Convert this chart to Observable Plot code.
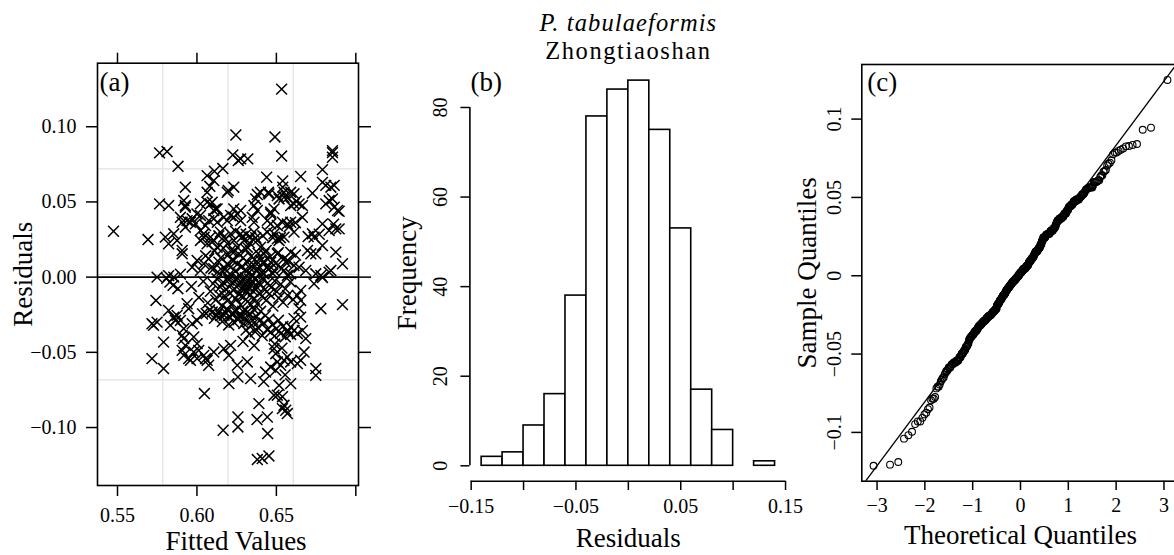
<!DOCTYPE html>
<html><head><meta charset="utf-8">
<script src="https://cdn.jsdelivr.net/npm/d3@7"></script>
<script src="https://cdn.jsdelivr.net/npm/@observablehq/plot@0.6"></script>
<style>
html,body{margin:0;padding:0;background:#fff;width:1174px;height:555px;overflow:hidden}
#wrap{position:relative;width:1174px;height:555px;overflow:hidden;background:#fff}
#wrap>svg{position:absolute;top:0}
</style></head>
<body><div id="wrap"></div>
<script>
const titleLine1 = "P. tabulaeformis";
const titleLine2 = "Zhongtiaoshan";
const panelLabels = ["(a)", "(b)", "(c)"];
const residualPoints = [
[0.5475,0.0305],[0.6533,0.1250],[0.6245,0.0945],[0.6491,0.0932],[0.5765,0.0826],[0.5812,0.0835],
[0.5881,0.0737],[0.6226,0.0813],[0.6260,0.0775],[0.6320,0.0786],[0.6275,0.0786],[0.6533,0.0805],
[0.6853,0.0841],[0.6853,0.0828],[0.6853,0.0797],[0.6110,0.0704],[0.6163,0.0722],[0.6790,0.0715],
[0.6064,0.0675],[0.6439,0.0664],[0.6653,0.0669],[0.6790,0.0630],[0.6811,0.0610],[0.6843,0.0598],
[0.6864,0.0610],[0.5927,0.0598],[0.6081,0.0604],[0.6106,0.0642],[0.6232,0.0598],[0.6197,0.0576],
[0.6540,0.0640],[0.6540,0.0598],[0.6611,0.0554],[0.6590,0.0564],[0.6727,0.0558],[0.6380,0.0549],
[0.6400,0.0564],[0.6450,0.0564],[0.6506,0.0542],[0.6548,0.0531],[0.6569,0.0527],[0.6611,0.0487],
[0.6643,0.0487],[0.6664,0.0476],[0.5917,0.0509],[0.5927,0.0476],[0.5765,0.0487],[0.5822,0.0476],
[0.6064,0.0498],[0.6085,0.0487],[0.6106,0.0443],[0.6117,0.0454],[0.6811,0.0487],[0.6832,0.0509],
[0.6864,0.0465],[0.6895,0.0438],[0.6359,0.0476],[0.6380,0.0443],[0.6464,0.0432],[0.6485,0.0454],
[0.6664,0.0398],[0.6000,0.0420],[0.6022,0.0410],[0.5970,0.0388],[0.5938,0.0376],[0.5907,0.0365],
[0.5927,0.0332],[0.5959,0.0365],[0.5990,0.0354],[0.5896,0.0398],[0.6212,0.0410],[0.6232,0.0398],
[0.6254,0.0420],[0.6275,0.0376],[0.6191,0.0376],[0.6169,0.0398],[0.6106,0.0388],[0.6128,0.0365],
[0.6074,0.0376],[0.6054,0.0343],[0.6348,0.0398],[0.6359,0.0365],[0.6443,0.0376],[0.6464,0.0354],
[0.6506,0.0343],[0.6538,0.0365],[0.6569,0.0354],[0.6590,0.0365],[0.6611,0.0299],[0.6548,0.0266],
[0.6727,0.0288],[0.6737,0.0266],[0.6790,0.0354],[0.6832,0.0310],[0.6874,0.0321],[0.6895,0.0321],
[0.5692,0.0250],[0.5801,0.0266],[0.5822,0.0222],[0.5854,0.0288],[0.5875,0.0244],[0.5907,0.0177],
[0.5907,0.0155],[0.6022,0.0310],[0.6043,0.0288],[0.6022,0.0244],[0.6064,0.0222],[0.6085,0.0266],
[0.6106,0.0244],[0.6148,0.0299],[0.6127,0.0199],[0.6169,0.0266],[0.6191,0.0222],[0.6212,0.0288],
[0.6232,0.0244],[0.6212,0.0177],[0.6254,0.0199],[0.6275,0.0288],[0.6296,0.0244],[0.6317,0.0199],
[0.6338,0.0266],[0.6359,0.0299],[0.6380,0.0244],[0.6401,0.0199],[0.6422,0.0155],[0.6443,0.0299],
[0.6485,0.0288],[0.6506,0.0255],[0.6517,0.0244],[0.6506,0.0155],[0.6548,0.0122],[0.6559,0.0100],
[0.6590,0.0166],[0.6696,0.0177],[0.6717,0.0155],[0.6748,0.0155],[0.6790,0.0210],[0.6874,0.0166],
[0.6916,0.0089],[0.6643,0.0066],[0.6685,0.0044],[0.6748,0.0022],[0.6780,0.0011],[0.6843,0.0044],
[0.5749,0.0000],[0.5822,0.0010],[0.5854,0.0000],[0.5896,0.0020],[0.5970,0.0066],[0.6001,0.0111],
[0.6022,0.0044],[0.6043,0.0089],[0.6074,0.0122],[0.6106,0.0056],[0.6138,0.0100],[0.6159,0.0044],
[0.6191,0.0089],[0.6212,0.0066],[0.6232,0.0111],[0.6401,0.0111],[0.6443,0.0066],[0.6464,0.0100],
[0.6485,0.0044],[0.6422,0.0022],[0.6380,0.0044],[0.6548,0.0044],[0.6590,0.0022],[0.6611,0.0077],
[0.6569,0.0011],
[0.6064,0.0564],[0.6096,0.0498],[0.6127,0.0454],[0.6191,0.0564],[0.6370,0.0520],[0.6453,0.0553],
[0.6517,0.0520],[0.6548,0.0564],[0.6590,0.0476],[0.6625,0.0505],[0.6853,0.0520],[0.6885,0.0443],
[0.6464,0.0420],[0.5927,0.0465],[0.6022,0.0487],[0.6232,0.0454],[0.6275,0.0443],
[0.6045,0.0265],[0.6095,0.0235],[0.6138,0.0275],[0.6180,0.0252],[0.6243,0.0305],[0.6285,0.0268],
[0.6310,0.0285],[0.6330,0.0228],[0.6370,0.0262],[0.6415,0.0275],[0.6478,0.0262],[0.6525,0.0262],
[0.6580,0.0335],[0.6620,0.0362],[0.6700,0.0270],[0.6770,0.0285],[0.6860,0.0352],
[0.6055,0.0142],[0.6088,0.0061],[0.6112,0.0175],[0.6131,0.0034],[0.6150,0.0128],[0.6167,0.0192],
[0.6178,0.0052],[0.6195,0.0146],[0.6208,0.0021],[0.6221,0.0113],[0.6234,0.0168],[0.6242,0.0039],
[0.6256,0.0087],[0.6263,0.0154],[0.6271,0.0012],[0.6284,0.0072],[0.6291,0.0129],[0.6302,0.0046],
[0.6310,0.0183],[0.6318,0.0098],[0.6325,0.0027],[0.6333,0.0061],[0.6341,0.0138],[0.6349,0.0015],
[0.6356,0.0082],[0.6364,0.0119],[0.6372,0.0043],[0.6385,0.0157],[0.6393,0.0069],[0.6408,0.0031],
[0.6421,0.0104],[0.6436,0.0178],[0.6449,0.0051],[0.6462,0.0136],[0.6478,0.0024],[0.6495,0.0091],
[0.6512,0.0163],[0.6534,0.0058],[0.6571,0.0112],[0.6620,0.0147],
[0.5965,-0.0062],[0.6012,-0.0135],[0.6040,-0.0028],[0.6068,-0.0171],[0.6085,-0.0094],[0.6102,-0.0043],
[0.6118,-0.0152],[0.6126,-0.0011],[0.6139,-0.0118],[0.6147,-0.0066],[0.6158,-0.0189],[0.6166,-0.0035],
[0.6174,-0.0124],[0.6183,-0.0081],[0.6191,-0.0158],[0.6199,-0.0019],[0.6207,-0.0107],[0.6214,-0.0054],
[0.6222,-0.0176],[0.6229,-0.0088],[0.6236,-0.0029],[0.6243,-0.0141],[0.6250,-0.0064],[0.6257,-0.0008],
[0.6263,-0.0113],[0.6269,-0.0042],[0.6275,-0.0185],[0.6281,-0.0076],[0.6287,-0.0021],[0.6293,-0.0132],
[0.6298,-0.0057],[0.6304,-0.0004],[0.6309,-0.0098],[0.6315,-0.0035],[0.6320,-0.0162],[0.6326,-0.0071],
[0.6331,-0.0014],[0.6337,-0.0119],[0.6342,-0.0048],[0.6348,-0.0026],[0.6354,-0.0093],[0.6360,-0.0145],
[0.6366,-0.0009],[0.6372,-0.0061],[0.6379,-0.0178],[0.6386,-0.0033],[0.6393,-0.0105],[0.6401,-0.0052],
[0.6409,-0.0127],[0.6418,-0.0017],[0.6427,-0.0084],[0.6436,-0.0154],[0.6446,-0.0039],[0.6456,-0.0112],
[0.6467,-0.0068],[0.6478,-0.0193],[0.6490,-0.0025],[0.6502,-0.0096],[0.6515,-0.0139],[0.6528,-0.0047],
[0.6542,-0.0167],[0.6556,-0.0078],[0.6571,-0.0121],[0.6588,-0.0031],[0.6605,-0.0149],[0.6195,-0.0003],
[0.6245,-0.0017],[0.6302,-0.0079],[0.6340,-0.0183],[0.6283,-0.0125],
[0.6035,-0.0245],[0.6058,-0.0242],[0.6079,-0.0218],[0.6096,-0.0232],[0.6110,-0.0274],[0.6124,-0.0251],
[0.6137,-0.0229],[0.6149,-0.0256],[0.6160,-0.0296],[0.6171,-0.0253],[0.6181,-0.0236],[0.6190,-0.0212],
[0.6200,-0.0318],[0.6209,-0.0267],[0.6218,-0.0246],[0.6226,-0.0238],[0.6234,-0.0301],[0.6242,-0.0228],
[0.6250,-0.0221],[0.6258,-0.0283],[0.6266,-0.0261],[0.6273,-0.0257],[0.6281,-0.0254],[0.6288,-0.0226],
[0.6295,-0.0309],[0.6302,-0.0271],[0.6309,-0.0352],[0.6316,-0.0234],[0.6323,-0.0297],[0.6330,-0.0378],
[0.6337,-0.0249],[0.6344,-0.0321],[0.6351,-0.0286],[0.6359,-0.0215],[0.6367,-0.0363],[0.6375,-0.0262],
[0.6383,-0.0334],[0.6392,-0.0291],[0.6401,-0.0227],[0.6411,-0.0389],[0.6421,-0.0305],[0.6431,-0.0256],
[0.6442,-0.0348],[0.6453,-0.0279],[0.6464,-0.0366],[0.6476,-0.0318],[0.6488,-0.0392],[0.6500,-0.0343],
[0.6513,-0.0287],[0.6527,-0.0375],[0.6541,-0.0328],[0.6556,-0.0396],[0.6572,-0.0354],[0.6590,-0.0381],
[0.6290,-0.0428],[0.6360,-0.0455],[0.6490,-0.0445],[0.6535,-0.0472],
[0.5742,-0.0155],[0.5717,-0.0310],[0.5727,-0.0320],[0.5749,-0.0299],[0.5717,-0.0542],[0.5790,-0.0432],
[0.5790,-0.0608],[0.5822,-0.0221],[0.5854,-0.0266],[0.5875,-0.0254],[0.5896,-0.0288],[0.5833,-0.0320],
[0.5865,-0.0288],[0.5810,-0.0008],[0.5830,-0.0033],[0.5850,-0.0055],[0.5880,-0.0077],[0.5938,-0.0177],
[0.5948,-0.0210],[0.5917,-0.0343],[0.5907,-0.0387],[0.5917,-0.0409],[0.5927,-0.0454],[0.5907,-0.0487],
[0.5917,-0.0520],[0.5948,-0.0542],[0.5980,-0.0498],[0.5959,-0.0553],[0.6001,-0.0542],[0.6011,-0.0487],
[0.5980,-0.0398],[0.5970,-0.0310],[0.6001,-0.0288],[0.6001,-0.0442],[0.6043,-0.0520],[0.6064,-0.0553],
[0.6074,-0.0586],[0.6054,-0.0542],[0.6047,-0.0774],[0.6106,-0.0498],[0.6169,-0.0476],[0.6201,-0.0520],
[0.6212,-0.0454],[0.6201,-0.0708],[0.6165,-0.1018],[0.6258,-0.0930],[0.6258,-0.0996],[0.6258,-0.0664],
[0.6338,-0.0675],[0.6317,-0.0564],[0.6254,-0.0586],[0.6390,-0.0841],[0.6378,-0.0947],[0.6380,-0.1213],
[0.6411,-0.1206],[0.6453,-0.1189],[0.6445,-0.1040],[0.6443,-0.0930],[0.6432,-0.0631],[0.6464,-0.0598],
[0.6496,-0.0620],[0.6485,-0.0476],[0.6496,-0.0509],[0.6506,-0.0564],[0.6527,-0.0586],[0.6517,-0.0719],
[0.6506,-0.0785],[0.6485,-0.0785],[0.6538,-0.0795],[0.6548,-0.0852],[0.6559,-0.0885],[0.6538,-0.0874],
[0.6569,-0.0907],[0.6590,-0.0708],[0.6548,-0.0553],[0.6569,-0.0531],[0.6590,-0.0564],[0.6632,-0.0575],
[0.6653,-0.0553],[0.6674,-0.0498],[0.6685,-0.0409],[0.6664,-0.0354],[0.6632,-0.0376],[0.6611,-0.0354],
[0.6590,-0.0332],[0.6569,-0.0365],[0.6748,-0.0608],[0.6748,-0.0653],[0.6780,-0.0210],[0.6916,-0.0183],
[0.6653,-0.0089],[0.6632,-0.0122],[0.6653,-0.0155],[0.6643,-0.0210],[0.6653,-0.0266],[0.6611,-0.0276],
[0.6737,-0.0044],[0.6790,-0.0002],[0.6832,0.0033],[0.6420,-0.0695],[0.6555,-0.0650]
];
const fittedTicks = [0.55, 0.60, 0.65, 0.70];
const fittedTickLabels = ["0.55", "0.60", "0.65", ""];
const residTicks = [-0.10, -0.05, 0, 0.05, 0.10];
const residTickLabels = ["\u22120.10", "\u22120.05", "0.00", "0.05", "0.10"];
const gridLinesPerAxis = 3;
const binEdges = [-0.14,-0.12,-0.10,-0.08,-0.06,-0.04,-0.02,0,0.02,0.04,0.06,0.08,0.10,0.12,0.14];
const binCounts = [2,3,9,16,38,78,84,86,75,53,17,8,0,1];
const histXTicks = [-0.15,-0.10,-0.05,0,0.05,0.10,0.15];
const histXTickLabels = ["\u22120.15","","\u22120.05","","0.05","","0.15"];
const freqTicks = [0,20,40,60,80];
const freqTickLabels = ["0","20","40","60","80"];
const qqXTicks = [-3,-2,-1,0,1,2,3];
const qqXTickLabels = ["\u22123","\u22122","\u22121","0","1","2","3"];
const qqYTicks = [-0.1,-0.05,0,0.05,0.1];
const qqYTickLabels = ["\u22120.1","\u22120.05","0","0.05","0.1"];

const FONT = "'Liberation Serif','Times New Roman',serif";
const TICK_FS = 20, LAB_FS = 27, TITLE_FS = 24.5;
const extend = (e, f) => { const r = e[1] - e[0]; return [e[0] - f * r, e[1] + f * r]; };
const lookup = (ticks, labels) => { const m = new Map(ticks.map((t, i) => [t, labels[i]])); return d => m.get(d) ?? ""; };
function qnorm(p) {
  const a=[-3.969683028665376e+01,2.209460984245205e+02,-2.759285104469687e+02,1.383577518672690e+02,-3.066479806614716e+01,2.506628277459239e+00];
  const b=[-5.447609879822406e+01,1.615858368580409e+02,-1.556989798598866e+02,6.680131188771972e+01,-1.328068155288572e+01];
  const c=[-7.784894002430293e-03,-3.223964580411365e-01,-2.400758277161838e+00,-2.549732539343734e+00,4.374664141464968e+00,2.938163982698783e+00];
  const d=[7.784695709041462e-03,3.224671290700398e-01,2.445134137142996e+00,3.754408661907416e+00];
  const pl = 0.02425;
  if (p < pl) { const q = Math.sqrt(-2*Math.log(p)); return (((((c[0]*q+c[1])*q+c[2])*q+c[3])*q+c[4])*q+c[5])/((((d[0]*q+d[1])*q+d[2])*q+d[3])*q+1); }
  if (p <= 1 - pl) { const q = p - 0.5, r = q*q; return (((((a[0]*r+a[1])*r+a[2])*r+a[3])*r+a[4])*r+a[5])*q/(((((b[0]*r+b[1])*r+b[2])*r+b[3])*r+b[4])*r+1); }
  const q = Math.sqrt(-2*Math.log(1-p)); return -(((((c[0]*q+c[1])*q+c[2])*q+c[3])*q+c[4])*q+c[5])/((((d[0]*q+d[1])*q+d[2])*q+d[3])*q+1);
}
const baseStyle = {fontFamily: FONT, fontSize: TICK_FS + "px", color: "#000", background: "transparent", overflow: "visible"};
const wrap = document.getElementById("wrap");
function place(svg, left) { svg.style.left = left + "px"; wrap.appendChild(svg); }
const yLabel = (txt, dx) => Plot.text([txt], {frameAnchor: "left", dx, rotate: -90, textAnchor: "middle", lineAnchor: "bottom", fontSize: LAB_FS});

// panel (a)
const domA_x = extend(d3.extent(residualPoints, d => d[0]), 0.07);
const domA_y = extend(d3.extent(residualPoints, d => d[1]), 0.07);
const gridA_x = d3.range(1, gridLinesPerAxis + 1).map(k => domA_x[0] + k * (domA_x[1] - domA_x[0]) / (gridLinesPerAxis + 1));
const gridA_y = d3.range(1, gridLinesPerAxis + 1).map(k => domA_y[0] + k * (domA_y[1] - domA_y[0]) / (gridLinesPerAxis + 1));
const panelA = Plot.plot({
  width: 380, height: 555,
  marginLeft: 97, marginRight: 22, marginTop: 62.7, marginBottom: 70,
  x: {domain: domA_x}, y: {domain: domA_y},
  style: baseStyle,
  marks: [
    Plot.ruleX(gridA_x, {stroke: "#e2e2e2", strokeWidth: 1.2}),
    Plot.ruleY(gridA_y, {stroke: "#e2e2e2", strokeWidth: 1.2}),
    Plot.ruleY([0], {stroke: "#000", strokeWidth: 1.6}),
    Plot.dot(residualPoints, {x: d => d[0], y: d => d[1], symbol: "times", r: 5, stroke: "#000", strokeWidth: 1.5}),
    Plot.frame({stroke: "#000", strokeWidth: 1.6}),
    Plot.axisX(fittedTicks, {anchor: "bottom", tickSize: 11, tickPadding: 11, strokeWidth: 1.5, tickFormat: lookup(fittedTicks, fittedTickLabels), label: null}),
    Plot.axisX(fittedTicks, {anchor: "top", tickSize: 11, strokeWidth: 1.5, tickFormat: () => "", label: null}),
    Plot.axisY(residTicks, {anchor: "left", tickSize: 11, tickPadding: 10, strokeWidth: 1.5, tickFormat: lookup(residTicks, residTickLabels), label: null}),
    Plot.axisY(residTicks, {anchor: "right", tickSize: 12, strokeWidth: 1.5, tickFormat: () => "", label: null}),
    Plot.text([panelLabels[0]], {frameAnchor: "top-left", dx: 2, dy: 27.3, textAnchor: "start", lineAnchor: "bottom", fontSize: LAB_FS}),
    Plot.text(["Fitted Values"], {frameAnchor: "bottom", dx: 8, dy: 64.3, lineAnchor: "bottom", fontSize: LAB_FS}),
    yLabel("Residuals", -65.5)
  ]
});
place(panelA, 0);

// panel (b)
const histData = binCounts.map((c, i) => ({x1: binEdges[i], x2: binEdges[i + 1], count: c})).filter(d => d.count > 0);
const domB_x = extend([binEdges[0], binEdges[binEdges.length - 1]], 0.04);
const domB_y = extend([0, d3.max(binCounts)], 0.04);
const panelB = Plot.plot({
  width: 420, height: 555,
  marginLeft: 89.4, marginRight: 13.7, marginTop: 64.7, marginBottom: 74.3,
  x: {domain: domB_x}, y: {domain: domB_y},
  style: baseStyle,
  marks: [
    Plot.rectY(histData, {x1: "x1", x2: "x2", y: "count", fill: "#fff", stroke: "#000", strokeWidth: 1.6}),
    Plot.ruleX([domB_x[0]], {y1: freqTicks[0], y2: freqTicks[freqTicks.length - 1], stroke: "#000", strokeWidth: 1.6}),
    Plot.ruleY([domB_y[0]], {x1: histXTicks[0], x2: histXTicks[histXTicks.length - 1], stroke: "#000", strokeWidth: 1.6}),
    Plot.axisX(histXTicks, {anchor: "bottom", tickSize: 9.3, tickPadding: 8, strokeWidth: 1.5, tickFormat: lookup(histXTicks, histXTickLabels), label: null}),
    Plot.axisY(freqTicks, {anchor: "left", tickSize: 9, strokeWidth: 1.5, tickFormat: () => "", label: null}),
    Plot.text(freqTicks, {y: d => d, text: lookup(freqTicks, freqTickLabels), frameAnchor: "left", dx: -29, rotate: -90, textAnchor: "middle", lineAnchor: "middle", fontSize: TICK_FS}),
    Plot.text([titleLine1 + "\n" + titleLine2], {frameAnchor: "top", dy: -6.4, lineAnchor: "bottom", lineHeight: 28 / TITLE_FS, fontSize: TITLE_FS}),
    Plot.text([panelLabels[1]], {frameAnchor: "top-left", dx: 0.6, dy: 25.3, textAnchor: "start", lineAnchor: "bottom", fontSize: LAB_FS}),
    Plot.text(["Residuals"], {frameAnchor: "bottom", dy: 66, lineAnchor: "bottom", fontSize: LAB_FS}),
    yLabel("Frequency", -54.4)
  ]
});
// species name in italics, slightly wider tracking to match the reference
d3.select(panelB).selectAll("tspan").each(function () {
  if (this.textContent === titleLine1) d3.select(this).style("font-style", "italic").style("letter-spacing", "1.1px");
  if (this.textContent === titleLine2) d3.select(this).style("letter-spacing", "1.6px");
});
place(panelB, 380);

// panel (c)
const sorted = residualPoints.map(d => d[1]).sort(d3.ascending);
const n = sorted.length;
const qqData = sorted.map((s, i) => ({theoretical: qnorm((i + 1 - 0.5) / n), sample: s}));
const q1 = d3.quantileSorted(sorted, 0.25), q3 = d3.quantileSorted(sorted, 0.75);
const z1 = qnorm(0.25), z3 = qnorm(0.75);
const slope = (q3 - q1) / (z3 - z1), intercept = q1 - slope * z1;
const domC_x = extend(d3.extent(qqData, d => d.theoretical), 0.04);
const domC_y = extend(d3.extent(qqData, d => d.sample), 0.04);
const qqLine = [{x1: domC_x[0] - 1, x2: domC_x[1] + 1}].map(d => ({...d, y1: intercept + slope * d.x1, y2: intercept + slope * d.x2}));
const panelC = Plot.plot({
  width: 400, height: 555,
  marginLeft: 61.3, marginRight: 21.3, marginTop: 64, marginBottom: 74.3,
  x: {domain: domC_x}, y: {domain: domC_y},
  style: baseStyle,
  marks: [
    Plot.link(qqLine, {x1: "x1", y1: "y1", x2: "x2", y2: "y2", stroke: "#000", strokeWidth: 1.3, clip: true}),
    Plot.dot(qqData, {x: "theoretical", y: "sample", r: 3.4, stroke: "#000", fill: "none", strokeWidth: 1.1}),
    Plot.frame({stroke: "#000", strokeWidth: 1.6}),
    Plot.axisX(qqXTicks, {anchor: "bottom", tickSize: 9.3, tickPadding: 7.5, strokeWidth: 1.5, tickFormat: lookup(qqXTicks, qqXTickLabels), label: null}),
    Plot.axisY(qqYTicks, {anchor: "left", tickSize: 10, strokeWidth: 1.5, tickFormat: () => "", label: null}),
    Plot.text(qqYTicks, {y: d => d, text: lookup(qqYTicks, qqYTickLabels), frameAnchor: "left", dx: -27.3, rotate: -90, textAnchor: "middle", lineAnchor: "middle", fontSize: TICK_FS}),
    Plot.text([panelLabels[2]], {frameAnchor: "top-left", dx: 5.4, dy: 26, textAnchor: "start", lineAnchor: "bottom", fontSize: LAB_FS}),
    Plot.text(["Theoretical Quantiles"], {frameAnchor: "bottom", dy: 62.6, lineAnchor: "bottom", fontSize: LAB_FS}),
    yLabel("Sample Quantiles", -46.3)
  ]
});
place(panelC, 800);
</script>
</body></html>
